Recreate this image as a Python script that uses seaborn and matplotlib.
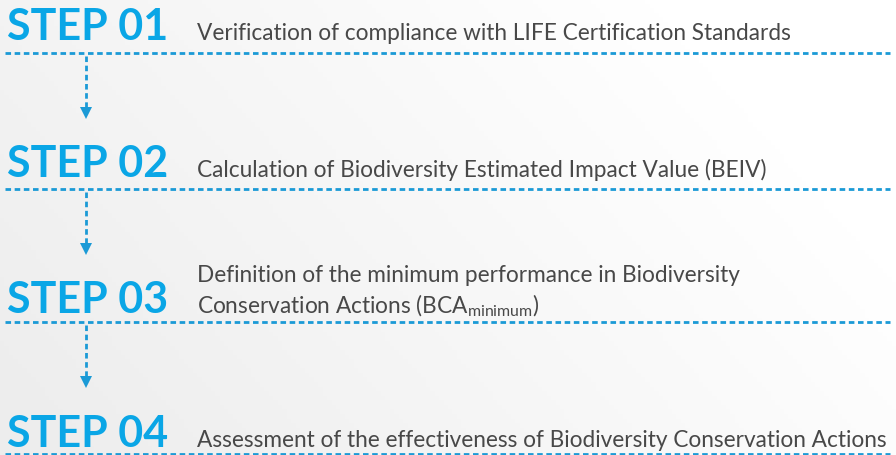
import numpy as np
import pandas as pd
import matplotlib.pyplot as plt
import seaborn as sns

# step labels and descriptions
steps = ["STEP 01", "STEP 02", "STEP 03", "STEP 04"]
descriptions = [
    "Verification of compliance with LIFE Certification Standards",
    "Calculation of Biodiversity Estimated Impact Value (BEIV)",
    "Definition of the minimum performance in Biodiversity\nConservation Actions (BCA$_{\\mathregular{minimum}}$)",
    "Assessment of the effectiveness of Biodiversity Conservation Actions",
]

BLUE = "#0aa6e6"
LINE_BLUE = "#1b9ad6"
GREY = "#484848"

sns.set_theme(style="white")
plt.rcParams['font.family'] = ['Lato', 'DejaVu Sans']

W, H = 896, 456
fig = plt.figure(figsize=(W / 100, H / 100), dpi=100)
ax = fig.add_axes([0, 0, 1, 1])
ax.set_xlim(0, W)
ax.set_ylim(H, 0)
ax.axis("off")

# soft grey background, lighter to the upper right
gx, gy = np.meshgrid(np.linspace(0, 1, 200), np.linspace(0, 1, 100))
shade = 0.93 + 0.07 * np.clip(gx * 0.9 - gy * 0.4 + 0.35, 0, 1)
ax.imshow(np.dstack([shade] * 3), extent=[0, W, H, 0], aspect="auto", zorder=0)

sep_y = [54, 190, 323, 455]
base_y = [40, 177, 313, 447]
dots = (0, (2.0, 1.3))

seps = pd.DataFrame({"x": [5, 890] * len(steps),
                     "y": np.repeat(sep_y, 2),
                     "step": np.repeat(steps, 2)})
for step, g in seps.groupby("step"):
    sns.lineplot(data=g, x="x", y="y", ax=ax, color=LINE_BLUE, lw=2.0,
                 linestyle=dots, zorder=2)

for i, (step, desc) in enumerate(zip(steps, descriptions)):
    ax.text(7, base_y[i], step, color=BLUE, fontsize=31, fontweight="bold",
            va="baseline", ha="left", zorder=3)
    ax.text(197, base_y[i], desc, color=GREY, fontsize=16.3,
            va="baseline", ha="left", linespacing=1.3, zorder=3)
    if i < len(steps) - 1:
        y0 = sep_y[i] + 3
        y1 = sep_y[i] + 55
        ax.plot([86, 86], [y0, y1], color=LINE_BLUE, lw=2.0,
                linestyle=dots, zorder=2)
        ax.plot(86, y1 + 5, marker="v", markersize=9, color=LINE_BLUE,
                markeredgewidth=0, zorder=2)

if ax.get_legend():
    ax.get_legend().remove()
fig.savefig("out.png", dpi=100)
